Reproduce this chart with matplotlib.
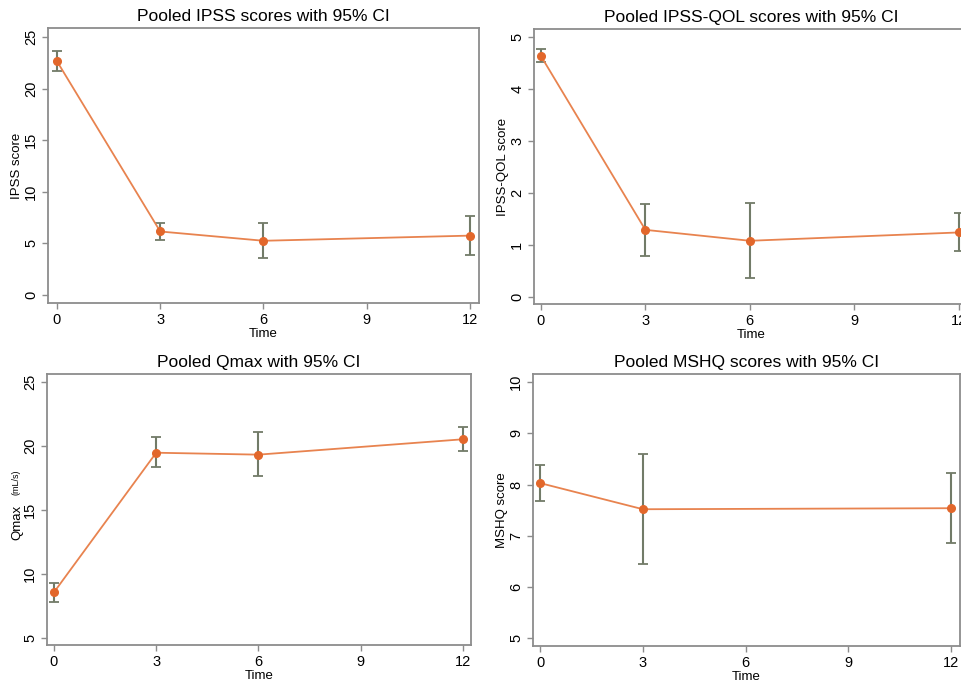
import matplotlib
matplotlib.use("Agg")
import matplotlib.pyplot as plt

plt.rcParams['font.family'] = ['Liberation Sans', 'DejaVu Sans']

# months of follow-up
time_all = [0, 3, 6, 12]
time_mshq = [0, 3, 12]

ipss_mean = [22.65, 6.15, 5.25, 5.75]
ipss_lo = [21.75, 5.3, 3.6, 3.9]
ipss_hi = [23.65, 7.0, 7.0, 7.65]

qol_mean = [4.63, 1.29, 1.08, 1.24]
qol_lo = [4.51, 0.79, 0.37, 0.88]
qol_hi = [4.76, 1.78, 1.8, 1.61]

qmax_mean = [8.55, 19.45, 19.3, 20.5]
qmax_lo = [7.8, 18.3, 17.65, 19.6]
qmax_hi = [9.25, 20.65, 21.05, 21.45]

mshq_mean = [8.03, 7.52, 7.54]
mshq_lo = [7.68, 6.45, 6.87]
mshq_hi = [8.39, 8.6, 8.22]

x_ticks = [0, 3, 6, 9, 12]

LINE = '#e8834f'
MARK = '#e2672b'
BAR = '#727b68'
FRAME = '#8c8c8c'

W, H = 962, 680
fig = plt.figure(figsize=(W / 100, H / 100), dpi=100)


def px_axes(x0, y0, x1, y1):
    # pixel box (top-left origin) -> figure axes
    return fig.add_axes([x0 / W, 1 - y1 / H, (x1 - x0) / W, (y1 - y0) / H])


def panel(ax, t, m, lo, hi, title, ylab, yticks, xlim, ylim):
    yerr = [[a - b for a, b in zip(m, lo)], [b - a for a, b in zip(m, hi)]]
    ax.errorbar(t, m, yerr=yerr, fmt='none', ecolor=BAR, elinewidth=1.5,
                capsize=3.5, capthick=1.3, zorder=2)
    ax.plot(t, m, color=LINE, lw=1.3, zorder=3)
    ax.plot(t, m, 'o', color=MARK, ms=5.5, zorder=4)
    ax.set_xlim(*xlim)
    ax.set_ylim(*ylim)
    ax.set_xticks(x_ticks)
    ax.set_yticks(yticks)
    ax.tick_params(axis='both', labelsize=10.5, length=4, width=1, color=FRAME,
                   direction='out', pad=3)
    for lab in ax.get_yticklabels():
        lab.set_rotation(90)
        lab.set_va('center')
    for s in ax.spines.values():
        s.set_color(FRAME)
        s.set_linewidth(1.3)
    ax.set_title(title, fontsize=12.5, pad=5)
    ax.set_xlabel('Time', fontsize=9.5, labelpad=1)
    if ylab:
        ax.set_ylabel(ylab, fontsize=9.5, labelpad=1)


ax1 = px_axes(48, 28, 479, 303)
panel(ax1, time_all, ipss_mean, ipss_lo, ipss_hi,
      'Pooled IPSS scores with 95% CI', 'IPSS score',
      [0, 5, 10, 15, 20, 25], (-0.26, 12.26), (-0.78, 25.87))

ax2 = px_axes(534, 29, 968, 304)
panel(ax2, time_all, qol_mean, qol_lo, qol_hi,
      'Pooled IPSS-QOL scores with 95% CI', 'IPSS-QOL score',
      [0, 1, 2, 3, 4, 5], (-0.2, 12.27), (-0.135, 5.15))

ax3 = px_axes(47, 374, 471, 645)
panel(ax3, time_all, qmax_mean, qmax_lo, qmax_hi,
      'Pooled Qmax with 95% CI', None,
      [5, 10, 15, 20, 25], (-0.205, 12.24), (4.43, 25.6))
ax3.text(17 / W, 1 - 522 / H, 'Qmax', rotation=90, fontsize=9.5,
         ha='center', va='center', transform=fig.transFigure)
ax3.text(16 / W, 1 - 482 / H, '(mL/s)', rotation=90, fontsize=6.5,
         ha='center', va='center', transform=fig.transFigure)

ax4 = px_axes(533, 374, 960, 646)
panel(ax4, time_mshq, mshq_mean, mshq_lo, mshq_hi,
      'Pooled MSHQ scores with 95% CI', 'MSHQ score',
      [5, 6, 7, 8, 9, 10], (-0.21, 12.26), (4.85, 10.16))

fig.savefig('out.png', dpi=100)
